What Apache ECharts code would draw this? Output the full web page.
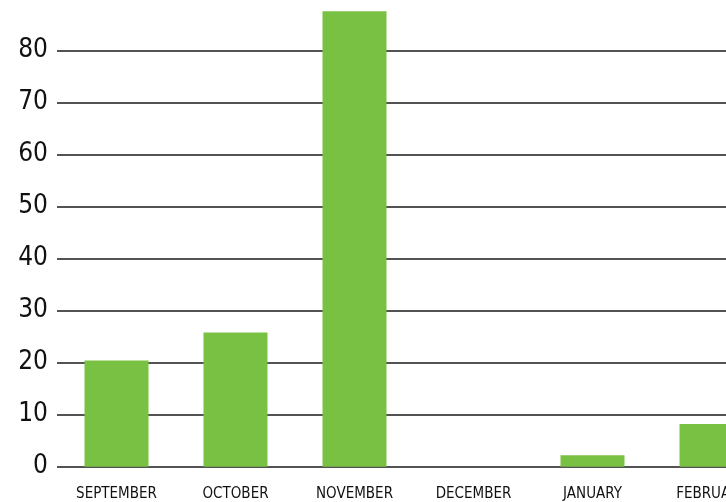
<!DOCTYPE html>
<html>
<head>
<meta charset="utf-8">
<script src="https://cdn.jsdelivr.net/npm/echarts@6/dist/echarts.min.js"></script>
<style>
  html, body { margin: 0; padding: 0; background: #fff; }
  #chart { width: 726px; height: 502px; }
</style>
</head>
<body>
<div id="chart"></div>
<script>
// categories and values
const months = ['SEPTEMBER', 'OCTOBER', 'NOVEMBER', 'DECEMBER', 'JANUARY', 'FEBRUARY'];
const counts = [20.4, 25.8, 87.5, 0, 2.2, 8.2];

const font = '"DejaVu Sans Condensed", "Liberation Sans Narrow", sans-serif';

const chart = echarts.init(document.getElementById('chart'));
chart.setOption({
    animation: false,
    grid: {
        left: 57,
        right: -45,
        top: -1.8,
        bottom: 35.3,
        outerBoundsMode: 'none'
    },
    xAxis: {
        type: 'category',
        data: months,
        axisLine: { show: false },
        axisTick: { show: false },
        axisLabel: {
            color: '#111',
            fontFamily: font,
            fontSize: 15,
            margin: 20,
            interval: 0
        }
    },
    yAxis: {
        type: 'value',
        min: 0,
        max: 90,
        interval: 10,
        axisLine: { show: false },
        axisTick: { show: false },
        axisLabel: {
            color: '#111',
            fontFamily: font,
            fontSize: 26,
            margin: 9,
            showMaxLabel: false
        },
        splitLine: {
            lineStyle: { color: '#1a1a1a', width: 1.5 }
        }
    },
    series: [{
        type: 'bar',
        data: counts,
        barWidth: 64,
        itemStyle: { color: '#79c143' }
    }]
});
</script>
</body>
</html>
